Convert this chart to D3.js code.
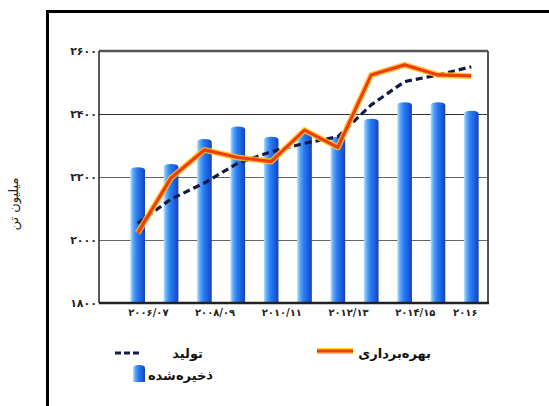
<!DOCTYPE html>
<html><head><meta charset="utf-8">
<script src="https://cdn.jsdelivr.net/npm/d3@7"></script>
<style>html,body{margin:0;padding:0;background:#fff;}svg{display:block;}</style>
</head><body>
<svg id="c" width="549" height="406"></svg>
<script>
// ---- data ----
const years = ["2006/07","2007/08","2008/09","2009/10","2010/11","2011/12","2012/13","2013/14","2014/15","2015/16","2016"];
const stored = [2231, 2241, 2321, 2360, 2328, 2340, 2328, 2385, 2437, 2437, 2410];       // ذخیره‌شده (bars)
const exploited = [2022, 2197, 2286, 2262, 2249, 2349, 2294, 2524, 2556, 2524, 2521];    // بهره‌برداری
const production = [2053, 2130, 2181, 2244, 2280, 2307, 2328, 2429, 2503, 2524, 2550];   // تولید
const yTicks = [1800, 2000, 2200, 2400, 2600];
const yTickLabels = ["۱۸۰۰", "۲۰۰۰", "۲۲۰۰", "۲۴۰۰", "۲۶۰۰"];
const xLabelSpans = [["2006/07","2007/08"],["2008/09","2009/10"],["2010/11","2011/12"],["2012/13","2013/14"],["2014/15","2015/16"],["2016","2016"]];
const xLabels = ["۲۰۰۶/۰۷", "۲۰۰۸/۰۹", "۲۰۱۰/۱۱", "۲۰۱۲/۱۳", "۲۰۱۴/۱۵", "۲۰۱۶"];
const legendNames = {production: "تولید", exploited: "بهره‌برداری", stored: "ذخیره‌شده"};
const yTitle = "میلیون تن";

// ---- layout ----
const svg = d3.select("#c");
const L = 99, R = 488, T = 51, B = 303;
const x = d3.scaleBand().domain(years).range([121, R]).paddingInner(0).paddingOuter(0);
const y = d3.scaleLinear().domain([1800, 2600]).range([B, T]);
const cx = d => x(d) + x.bandwidth() / 2;
const bw = x.bandwidth() * 0.44;

// outer frame
svg.append("path").attr("d", `M47.5,406 L47.5,11.5 L549,11.5`).attr("fill", "none").attr("stroke", "#000").attr("stroke-width", 3);

// y title
svg.append("text").attr("transform", `translate(18,204) rotate(-90)`).attr("text-anchor", "middle")
  .attr("font-family", "DejaVu Sans").attr("font-size", 13).attr("fill", "#222").text(yTitle);

// gridlines
svg.append("g").selectAll("line").data(yTicks.filter(v => v > 1800 && v < 2600)).join("line")
  .attr("x1", L).attr("x2", R).attr("y1", d => y(d) + 0.5).attr("y2", d => y(d) + 0.5)
  .attr("stroke", d => d === 2400 ? "#333" : "#666").attr("stroke-width", 1.2);

// bar gradient
const defs = svg.append("defs");
const g = defs.append("linearGradient").attr("id", "bg").attr("x1", "0").attr("x2", "1").attr("y1", "0").attr("y2", "0");
[[0, "#b8e0ff"], [0.2, "#5aa8f8"], [0.45, "#2a7cf0"], [0.75, "#1a5ee0"], [1, "#1840b8"]].forEach(s => g.append("stop").attr("offset", s[0]).attr("stop-color", s[1]));

svg.append("g").selectAll("path").data(years).join("path")
  .attr("d", (d, i) => {
    const x0 = cx(d) - bw / 2, x1 = cx(d) + bw / 2, yt = y(stored[i]), r = 3;
    return `M${x0},${B} L${x0},${yt + r} Q${x0},${yt} ${cx(d)},${yt} Q${x1},${yt} ${x1},${yt + r} L${x1},${B} Z`;
  }).attr("fill", "url(#bg)");

// production dashed line
const line = d3.line().x((d, i) => cx(years[i])).y(d => y(d));
svg.append("path").datum(production).attr("d", line).attr("fill", "none")
  .attr("stroke", "#141a48").attr("stroke-width", 3.2).attr("stroke-dasharray", "7,4");

// exploited line
svg.append("path").datum(exploited).attr("d", line).attr("fill", "none")
  .attr("stroke", "#ffc21a").attr("stroke-width", 6).attr("stroke-linejoin", "round").attr("opacity", 0.85);
svg.append("path").datum(exploited).attr("d", line).attr("fill", "none")
  .attr("stroke", "#f03c10").attr("stroke-width", 3.2).attr("stroke-linejoin", "round");

// plot frame
svg.append("line").attr("x1", L).attr("x2", R).attr("y1", T).attr("y2", T).attr("stroke", "#555").attr("stroke-width", 2.5);
svg.append("line").attr("x1", R).attr("x2", R).attr("y1", T).attr("y2", B).attr("stroke", "#555").attr("stroke-width", 2);
svg.append("line").attr("x1", L).attr("x2", L).attr("y1", T).attr("y2", B).attr("stroke", "#222").attr("stroke-width", 1.5);
svg.append("line").attr("x1", L).attr("x2", R + 1).attr("y1", B).attr("y2", B).attr("stroke", "#222").attr("stroke-width", 2.5);

// y tick labels
svg.append("g").selectAll("text").data(yTicks).join("text")
  .attr("x", 97).attr("y", d => y(d) + 4).attr("text-anchor", "end")
  .attr("font-family", "DejaVu Sans").attr("font-weight", "bold").attr("font-size", 11).attr("fill", "#222")
  .text((d, i) => yTickLabels[i]);

// x labels
svg.append("g").selectAll("text").data(xLabelSpans).join("text")
  .attr("x", d => (cx(d[0]) + cx(d[1])) / 2 - 6).attr("y", 316).attr("text-anchor", "middle")
  .attr("font-family", "DejaVu Sans").attr("font-weight", "bold").attr("font-size", 10).attr("fill", "#222")
  .text((d, i) => xLabels[i]);

// legend
const lf = s => s.attr("font-family", "DejaVu Sans").attr("font-weight", "bold").attr("font-size", 13).attr("fill", "#111");
svg.append("line").attr("x1", 115).attr("x2", 141).attr("y1", 353).attr("y2", 353).attr("stroke", "#141a48").attr("stroke-width", 3.2).attr("stroke-dasharray", "6,3");
svg.append("text").attr("x", 203).attr("y", 358).attr("text-anchor", "end").call(lf).text(legendNames.production);
svg.append("line").attr("x1", 317).attr("x2", 353).attr("y1", 351).attr("y2", 351).attr("stroke", "#ffc21a").attr("stroke-width", 6).attr("opacity", 0.85);
svg.append("line").attr("x1", 317).attr("x2", 353).attr("y1", 351).attr("y2", 351).attr("stroke", "#f03c10").attr("stroke-width", 3);
svg.append("text").attr("x", 431).attr("y", 358).attr("text-anchor", "end").call(lf).text(legendNames.exploited);
svg.append("path").attr("d", "M133,382 L133,368 Q133,365 139,365 Q145,365 145,368 L145,382 Z").attr("fill", "url(#bg)");
svg.append("text").attr("x", 213).attr("y", 380).attr("text-anchor", "end").call(lf).text(legendNames.stored);
</script>
</body></html>
